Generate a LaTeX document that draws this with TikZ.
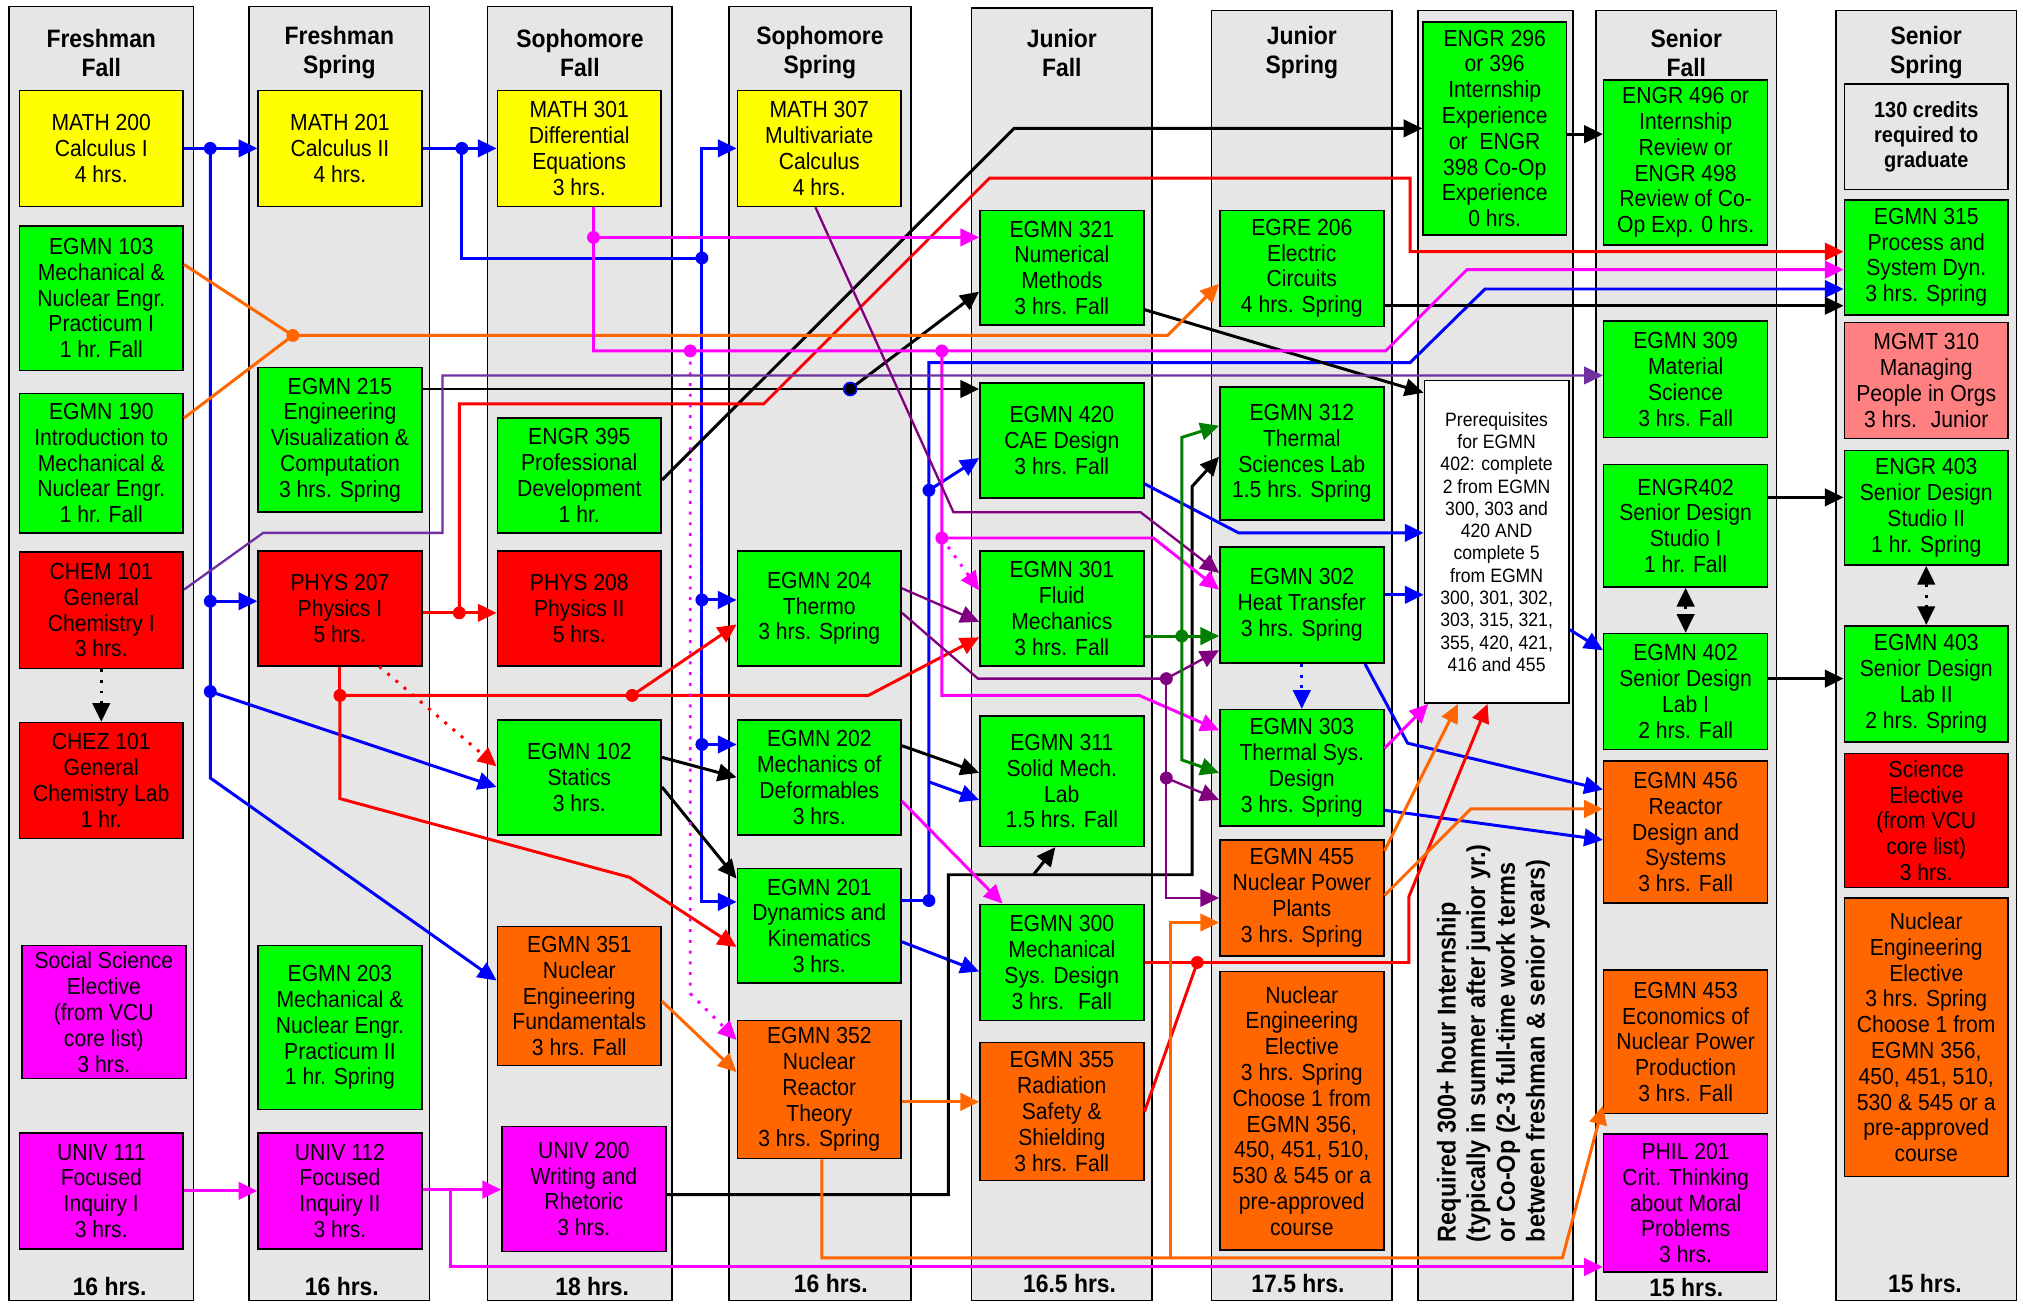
\documentclass[tikz,border=0pt]{standalone}
\usepackage{fontspec}
\setmainfont{Liberation Sans}[FakeStretch=0.91]
\usetikzlibrary{arrows.meta}

\definecolor{cyel}{HTML}{FFFF00}
\definecolor{cgrn}{HTML}{00FF00}
\definecolor{cred}{HTML}{FF0000}
\definecolor{cmag}{HTML}{FF00FF}
\definecolor{corg}{HTML}{FF6600}
\definecolor{cpink}{HTML}{FF8080}
\definecolor{cgray}{HTML}{E6E6E6}
\definecolor{lpurp}{HTML}{7030A0}
\definecolor{dpurp}{HTML}{800080}
\definecolor{dgrn}{HTML}{007F00}

\newcommand{\crsfont}{\fontsize{18}{20}\selectfont}
\newcommand{\hdrfont}{\fontsize{19.5}{22.5}\selectfont\bfseries}
\newcommand{\hrsfont}{\fontsize{19.5}{22}\selectfont\bfseries}
\newcommand{\prqfont}{\fontsize{15}{17.3}\selectfont}
\newcommand{\credfont}{\fontsize{17}{19.5}\selectfont\bfseries}
\newcommand{\notefont}{\fontsize{20}{23}\selectfont\bfseries}

\tikzset{
  >={Triangle[length=14.5pt,width=13.5pt]},
  colbox/.style={draw, fill=cgray, line width=1.2pt},
  course/.style={draw, line width=1.2pt, align=center, inner sep=0pt, minimum width=127pt, font=\crsfont},
  hdr/.style={align=center, font=\hdrfont},
  hrs/.style={font=\hrsfont},
  bl/.style={blue, line width=2.3pt},
  bk/.style={black, line width=2.3pt},
  rd/.style={red, line width=2.3pt},
  og/.style={corg, line width=2.3pt},
  mg/.style={cmag, line width=2.3pt},
  lp/.style={lpurp, line width=1.8pt},
  dp/.style={dpurp, line width=1.8pt},
  dg/.style={dgrn, line width=2.3pt},
  dots/.style={dash pattern=on 2.3pt off 6pt},
}

\begin{document}
\begin{tikzpicture}[x=1pt, y=-1pt]
\useasboundingbox (0,0) rectangle (1568,1010);

% term columns
\foreach \xa/\xb/\ya in {7/150/5, 193/333/5, 378/521/5, 565/706/5, 753/893/6, 939/1079/8, 1099/1219/8, 1237/1377/8, 1423/1563/8}
  \draw[colbox] (\xa,\ya) rectangle (\xb,1008);

\node[hdr] (hff) at (78.5,41) {Freshman\\Fall};
\node[hdr] (hfs) at (263,41) {Freshman\\Spring};
\node[hdr] (hsf) at (449.5,41) {Sophomore\\Fall};
\node[hdr] (hss) at (635.5,41) {Sophomore\\Spring};
\node[hdr] (hjf) at (823,41) {Junior\\Fall};
\node[hdr] (hjs) at (1009,41) {Junior\\Spring};
\node[hdr] (hnf) at (1307,41) {Senior\\Fall};
\node[hdr] (hns) at (1493,41) {Senior\\Spring};

\node[hrs] (tff) at (85,997) {16 hrs.};
\node[hrs] (tfs) at (265,997) {16 hrs.};
\node[hrs] (tsf) at (459,997) {18 hrs.};
\node[hrs] (tss) at (644,995) {16 hrs.};
\node[hrs] (tjf) at (829,995) {16.5 hrs.};
\node[hrs] (tjs) at (1006,995) {17.5 hrs.};
\node[hrs] (tnf) at (1307,998) {15 hrs.};
\node[hrs] (tns) at (1492,995) {15 hrs.};

% freshman fall
\node[course, fill=cyel, minimum height=90pt] (m200) at (78.5,115) {MATH 200\\Calculus I\\4 hrs.};
\node[course, fill=cgrn, minimum height=112pt] (e103) at (78.5,231) {EGMN 103\\Mechanical \&\\Nuclear Engr.\\Practicum I\\1 hr. Fall};
\node[course, fill=cgrn, minimum height=108pt] (e190) at (78.5,359) {EGMN 190\\Introduction to\\Mechanical \&\\Nuclear Engr.\\1 hr. Fall};
\node[course, fill=cred, minimum height=90pt] (c101) at (78.5,473) {CHEM 101\\General\\Chemistry I\\3 hrs.};
\node[course, fill=cred, minimum height=90pt] (z101) at (78.5,605) {CHEZ 101\\General\\Chemistry Lab\\1 hr.};
\node[course, fill=cmag, minimum height=103pt] (sse) at (80.5,784.5) {Social Science\\Elective\\(from VCU\\core list)\\3 hrs.};
\node[course, fill=cmag, minimum height=90pt] (u111) at (78.5,923) {UNIV 111\\Focused\\Inquiry I\\3 hrs.};

% freshman spring
\node[course, fill=cyel, minimum height=90pt] (m201) at (263.5,115) {MATH 201\\Calculus II\\4 hrs.};
\node[course, fill=cgrn, minimum height=112pt] (e215) at (263.5,341) {EGMN 215\\Engineering\\Visualization \&\\Computation\\3 hrs. Spring};
\node[course, fill=cred, minimum height=89pt] (p207) at (263.5,471.5) {PHYS 207\\Physics I\\5 hrs.};
\node[course, fill=cgrn, minimum height=127pt] (e203) at (263.5,796.5) {EGMN 203\\Mechanical \&\\Nuclear Engr.\\Practicum II\\1 hr. Spring};
\node[course, fill=cmag, minimum height=90pt] (u112) at (263.5,923) {UNIV 112\\Focused\\Inquiry II\\3 hrs.};

% sophomore fall
\node[course, fill=cyel, minimum height=90pt] (m301) at (449,115) {MATH 301\\Differential\\Equations\\3 hrs.};
\node[course, fill=cgrn, minimum height=89pt] (g395) at (449,368.5) {ENGR 395\\Professional\\Development\\1 hr.};
\node[course, fill=cred, minimum height=89pt] (p208) at (449,471.5) {PHYS 208\\Physics II\\5 hrs.};
\node[course, fill=cgrn, minimum height=89pt] (e102) at (449,602.5) {EGMN 102\\Statics\\3 hrs.};
\node[course, fill=corg, minimum height=108pt] (e351) at (449,772) {EGMN 351\\Nuclear\\Engineering\\Fundamentals\\3 hrs. Fall};
\node[course, fill=cmag, minimum height=97pt] (u200) at (452.5,921.5) {UNIV 200\\Writing and\\Rhetoric\\3 hrs.};

% sophomore spring
\node[course, fill=cyel, minimum height=90pt] (m307) at (635,115) {MATH 307\\Multivariate\\Calculus\\4 hrs.};
\node[course, fill=cgrn, minimum height=89pt] (e204) at (635,471.5) {EGMN 204\\Thermo\\3 hrs. Spring};
\node[course, fill=cgrn, minimum height=89pt] (e202) at (635,602.5) {EGMN 202\\Mechanics of\\Deformables\\3 hrs.};
\node[course, fill=cgrn, minimum height=89pt] (e201) at (635,717.5) {EGMN 201\\Dynamics and\\Kinematics\\3 hrs.};
\node[course, fill=corg, minimum height=107pt] (e352) at (635,844.5) {EGMN 352\\Nuclear\\Reactor\\Theory\\3 hrs. Spring};

% junior fall
\node[course, fill=cgrn, minimum height=89pt] (e321) at (823,207.5) {EGMN 321\\Numerical\\Methods\\3 hrs. Fall};
\node[course, fill=cgrn, minimum height=89pt] (e420) at (823,341.5) {EGMN 420\\CAE Design\\3 hrs. Fall};
\node[course, fill=cgrn, minimum height=89pt] (e301) at (823,471.5) {EGMN 301\\Fluid\\Mechanics\\3 hrs. Fall};
\node[course, fill=cgrn, minimum height=101pt] (e311) at (823,605.5) {EGMN 311\\Solid Mech.\\Lab\\1.5 hrs. Fall};
\node[course, fill=cgrn, minimum height=90pt] (e300) at (823,746) {EGMN 300\\Mechanical\\Sys. Design\\3 hrs.~ Fall};
\node[course, fill=corg, minimum height=107pt] (e355) at (823,861.5) {EGMN 355\\Radiation\\Safety \&\\Shielding\\3 hrs. Fall};

% junior spring
\node[course, fill=cgrn, minimum height=90pt] (g206) at (1009,208) {EGRE 206\\Electric\\Circuits\\4 hrs. Spring};
\node[course, fill=cgrn, minimum height=103pt] (e312) at (1009,351.5) {EGMN 312\\Thermal\\Sciences Lab\\1.5 hrs. Spring};
\node[course, fill=cgrn, minimum height=90pt] (e302) at (1009,469) {EGMN 302\\Heat Transfer\\3 hrs. Spring};
\node[course, fill=cgrn, minimum height=90pt] (e303) at (1009,595) {EGMN 303\\Thermal Sys.\\Design\\3 hrs. Spring};
\node[course, fill=corg, minimum height=90pt] (e455) at (1009,696) {EGMN 455\\Nuclear Power\\Plants\\3 hrs. Spring};
\node[course, fill=corg, minimum height=216pt] (ne1) at (1009,861) {Nuclear\\Engineering\\Elective\\3 hrs. Spring\\Choose 1 from\\EGMN 356,\\450, 451, 510,\\530 \& 545 or a\\pre-approved\\course};

% internship
\node[course, fill=cgrn, minimum width=111pt, minimum height=165pt] (g296) at (1158.5,99.5) {ENGR 296\\or 396\\Internship\\Experience\\or~ ENGR\\398 Co-Op\\Experience\\0 hrs.};
\node[course, fill=white, minimum width=112pt, minimum height=250pt, font=\prqfont] (prq) at (1160,420) {Prerequisites\\for EGMN\\402: complete\\2 from EGMN\\300, 303 and\\420 AND\\complete 5\\from EGMN\\300, 301, 302,\\303, 315, 321,\\355, 420, 421,\\416 and 455};
\node[rotate=90, anchor=west, align=left, inner sep=0pt, font=\notefont] (intern) at (1157.5,963) {Required 300+ hour Internship\\(typically in summer after junior yr.)\\or Co-Op (2-3 full-time work terms\\between freshman \& senior years)};

% senior fall
\node[course, fill=cgrn, minimum height=128pt] (g496) at (1306.5,126) {ENGR 496 or\\Internship\\Review or\\ENGR 498\\Review of Co-\\Op Exp. 0 hrs.};
\node[course, fill=cgrn, minimum height=90pt] (e309) at (1306.5,294) {EGMN 309\\Material\\Science\\3 hrs. Fall};
\node[course, fill=cgrn, minimum height=95pt] (g402) at (1306.5,407.5) {ENGR402\\Senior Design\\Studio I\\1 hr. Fall};
\node[course, fill=cgrn, minimum height=90pt] (e402) at (1306.5,536) {EGMN 402\\Senior Design\\Lab I\\2 hrs. Fall};
\node[course, fill=corg, minimum height=110pt] (e456) at (1306.5,645) {EGMN 456\\Reactor\\Design and\\Systems\\3 hrs. Fall};
\node[course, fill=corg, minimum height=111pt] (e453) at (1306.5,807.5) {EGMN 453\\Economics of\\Nuclear Power\\Production\\3 hrs. Fall};
\node[course, fill=cmag, minimum height=107pt] (ph201) at (1306.5,932.5) {PHIL 201\\Crit. Thinking\\about Moral\\Problems\\3 hrs.};

% senior spring
\node[course, fill=cgray, minimum height=82pt, font=\credfont] (cr130) at (1493,106) {130 credits\\required to\\graduate};
\node[course, fill=cgrn, minimum height=89pt] (e315) at (1493,199.5) {EGMN 315\\Process and\\System Dyn.\\3 hrs. Spring};
\node[course, fill=cpink, minimum height=90pt] (mg310) at (1493,295) {MGMT 310\\Managing\\People in Orgs\\3 hrs.~ Junior};
\node[course, fill=cgrn, minimum height=89pt] (g403) at (1493,393.5) {ENGR 403\\Senior Design\\Studio II\\1 hr. Spring};
\node[course, fill=cgrn, minimum height=90pt] (e403) at (1493,530) {EGMN 403\\Senior Design\\Lab II\\2 hrs. Spring};
\node[course, fill=cred, minimum height=104pt] (sci) at (1493,636) {Science\\Elective\\(from VCU\\core list)\\3 hrs.};
\node[course, fill=corg, minimum height=216pt] (ne2) at (1493,804) {Nuclear\\Engineering\\Elective\\3 hrs. Spring\\Choose 1 from\\EGMN 356,\\450, 451, 510,\\530 \& 545 or a\\pre-approved\\course};

% junctions
\coordinate (jb1) at (163,115);
\coordinate (jb2) at (163,466);
\coordinate (jb3) at (163,536);
\coordinate (jb4) at (358,115);
\coordinate (jb5) at (544,200);
\coordinate (jb6) at (544,465);
\coordinate (jb7) at (544,577);
\coordinate (jb9) at (720,698);
\coordinate (jb10) at (720,380);
\coordinate (jk1) at (659,301.5);
\coordinate (jr1) at (356,475);
\coordinate (jr2) at (263.5,539);
\coordinate (jr3) at (490,539);
\coordinate (jr4) at (928,746);
\coordinate (jo1) at (227,260);
\coordinate (jm1) at (460,184);
\coordinate (jm2) at (535,272);
\coordinate (jm3) at (730,272);
\coordinate (jm4) at (730,417);
\coordinate (jp1) at (904,526);
\coordinate (jp2) at (904,603);
\coordinate (jg1) at (916,493);

% blue
\draw[bl, ->] (m200) -- (m201);
\draw[bl, ->] (jb1) -- (163,603) -- ([yshift=12pt]e351.west);
\draw[bl, ->] (jb2) -- (jb2 -| p207.west);
\draw[bl, ->] (jb3) -- ([yshift=-7.5pt]e102.west);
\draw[bl, ->] (m201) -- (m301);
\draw[bl, ->] (jb4) |- (jb5) |- (m307.west);
\draw[bl, ->] (jb5) |- ([yshift=18.5pt]e201.west);
\draw[bl, ->] (jb6) -- (jb6 -| e204.west);
\draw[bl, ->] (jb7) -- (jb7 -| e202.west);
\draw[bl] ([yshift=19.5pt]e201.east) -- (jb9);
\draw[bl, ->] (jb9) -- (720,281) -- (1093,281) -- (1151,224) -- ([yshift=-24.5pt]e315.west);
\draw[bl, ->] (720,606) -- ([yshift=-14.5pt]e311.west);
\draw[bl, ->] (jb10) -- ([yshift=-13.5pt]e420.west);
\draw[bl, ->] ([yshift=-12.5pt]e201.east) -- ([yshift=-7pt]e300.west);
\draw[bl, ->] ([yshift=-33.5pt]e420.east) -- (960,413) -- ([yshift=7pt]prq.west);
\draw[bl, ->] ([yshift=8pt]e302.east) -- ([yshift=-41pt]prq.west);
\draw[bl, ->] ([xshift=49pt]e302.south) -- (1091,576) -- ([yshift=33pt]e456.west);
\draw[bl, ->] ([yshift=-33pt]e303.east) -- ([yshift=-6pt]e456.west);
\draw[bl, ->] ([yshift=-68pt]prq.east) -- ([yshift=32pt]e402.west);
\draw[bl, dots, ->] (e302.south) -- (e303.north);

% black
\draw[bk, ->] ([yshift=-3.5pt]g395.east) -- (786,99.5) -- (g296.west);
\draw[bk, ->] ([yshift=-4.5pt]g296.east) -- ([yshift=22pt]g496.west);
\draw[bk, ->] ([yshift=39.5pt]e215.east) -- ([yshift=40pt]e420.west);
\draw[bk, ->] (jk1) -- ([yshift=-18.5pt]e321.west);
\draw[bk, ->] ([yshift=-32.5pt]e321.east) -- ([yshift=-10pt]prq.north west);
\draw[bk, ->] ([yshift=-29pt]g206.east) -- ([yshift=-37.5pt]e315.west);
\draw[bk, ->] ([yshift=15.5pt]e102.east) -- (e202.west);
\draw[bk, ->] ([yshift=-7.5pt]e102.east) -- ([yshift=36.5pt]e201.west);
\draw[bk, ->] ([yshift=24.5pt]e202.east) -- ([yshift=6.5pt]e311.west);
\draw[bk, ->] ([yshift=-4.5pt]u200.east) -- (735,926) |- (924,678) -- (924,377) -- ([yshift=-2.5pt]e312.west);
\draw[bk, ->] (801,678) -- ([xshift=-5pt]e311.south);
\draw[bk, ->] ([yshift=22pt]g402.east) -- ([yshift=8pt]g403.west);
\draw[bk, ->] ([yshift=10pt]e402.east) -- ([yshift=4pt]e403.west);
\draw[bk, dots, ->] (c101.south) -- (z101.north);
\draw[bk, dots, <->] (g402.south) -- (e402.north);
\draw[bk, dots, <->] (g403.south) -- (e403.north);

% red
\draw[rd, ->] ([yshift=-3.5pt]p207.east) -- ([yshift=-3.5pt]p208.west);
\draw[rd, ->] (jr1) -- (356,313) -- (592,313) -- (767,138) -- (1093,138) -- (1093,195) -- ([yshift=4.5pt]e315.west);
\draw[rd] (p207.south) -- (jr2);
\draw[rd, ->] (jr2) -- (673,539) -- ([yshift=-22.5pt]e301.west);
\draw[rd, ->] (jr3) -- ([yshift=-12.5pt]e204.west);
\draw[rd, ->] (jr2) -- (263.5,619) -- (488,680) -- ([yshift=-16.5pt]e201.west);
\draw[rd, dots, ->] ([xshift=30.5pt]p207.south) -- ([yshift=8.5pt]e102.west);
\draw[rd, ->] (e300.east) -- (1092,746) -- (1092,695) -- ([xshift=-7pt]prq.south);
\draw[rd] (e355.east) -- (jr4);

% orange
\draw[og] ([yshift=26pt]e103.east) -- (jo1);
\draw[og] ([yshift=35pt]e190.east) -- (jo1);
\draw[og, ->] (jo1) -- (905,260) -- ([yshift=-12pt]g206.west);
\draw[og, ->] ([yshift=-4pt]e351.east) -- ([yshift=13.5pt]e352.west);
\draw[og, ->] ([yshift=-9.5pt]e352.east) -- ([yshift=7.5pt]e355.west);
\draw[og, ->] ([xshift=2pt]e352.south) -- (637,975) -- (1211,975) -- ([yshift=-49.5pt]e453.west);
\draw[og, ->] (907,975) -- (907,715) -- ([yshift=-19pt]e455.west);
\draw[og, ->] ([yshift=-9pt]e455.north east) -- ([xshift=-30pt]prq.south);
\draw[og, ->] ([yshift=2pt]e455.east) -- (1140,627) -- ([yshift=18pt]e456.west);

% magenta
\draw[mg, ->] (u111) -- (u112);
\draw[mg, ->] ([yshift=1pt]u112.east) -- ([yshift=-0.5pt]u200.west);
\draw[mg, ->] (349,922) -- (349,982) -- ([yshift=-49.5pt]ph201.west);
\draw[mg] ([xshift=11pt]m301.south) -- (jm1);
\draw[mg, ->] (jm1) -- ([yshift=23.5pt]e321.west);
\draw[mg, ->] (jm1) -- (460,272) -- (1074,272) -- (1137,209) -- ([yshift=-9.5pt]e315.west);
\draw[mg, dots, ->] (jm2) -- (535,770) -- ([yshift=38.5pt]e352.west);
\draw[mg, ->] (jm3) -- (730,539) -- (883,539) -- ([yshift=29pt]e303.west);
\draw[mg, ->] (jm4) -- (894,417) -- ([yshift=12pt]e302.west);
\draw[mg, dots, ->] (jm4) -- ([yshift=14pt]e301.west);
\draw[mg, ->] ([yshift=-18.5pt]e202.east) -- ([xshift=-46pt]e300.north);
\draw[mg, ->] ([yshift=15pt]e303.east) -- ([xshift=-53pt]prq.south);

% purple
\draw[lp, ->] ([yshift=16pt]c101.east) -- (204,413) -- (343,413) -- (343,291) -- ([yshift=3pt]e309.west);
\draw[dp, ->] ([xshift=-3pt]m307.south) -- (739,397) -- (884,397) -- ([yshift=25pt]e302.west);
\draw[dp, ->] ([yshift=15.5pt]e204.east) -- ([yshift=-10.5pt]e301.west);
\draw[dp] ([yshift=-3.5pt]e204.east) -- (758,526) -- (jp1);
\draw[dp, ->] (jp1) -- ([yshift=-35pt]e302.west);
\draw[dp, ->] (jp1) -- (904,696) -- (e455.west);
\draw[dp, ->] (jp2) -- ([yshift=-25pt]e303.west);

% green
\draw[dg, ->] ([yshift=-21.5pt]e301.east) -- ([yshift=-24pt]e302.west);
\draw[dg, ->] (jg1) -- (916,339) -- ([yshift=21.5pt]e312.west);
\draw[dg, ->] (jg1) -- (916,589) -- ([yshift=-4pt]e303.west);

% junction dots
\foreach \j in {jb1,jb2,jb3,jb4,jb5,jb6,jb7,jb9,jb10} \fill[blue] (\j) circle (5pt);
\foreach \j in {jr1,jr2,jr3,jr4} \fill[red] (\j) circle (5pt);
\foreach \j in {jm1,jm2,jm3,jm4} \fill[cmag] (\j) circle (5pt);
\foreach \j in {jp1,jp2} \fill[dpurp] (\j) circle (5pt);
\fill[corg] (jo1) circle (5pt);
\fill[dgrn] (jg1) circle (5pt);
\filldraw[fill=black, draw=blue, line width=1.3pt] (jk1) circle (5pt);
\end{tikzpicture}
\end{document}
